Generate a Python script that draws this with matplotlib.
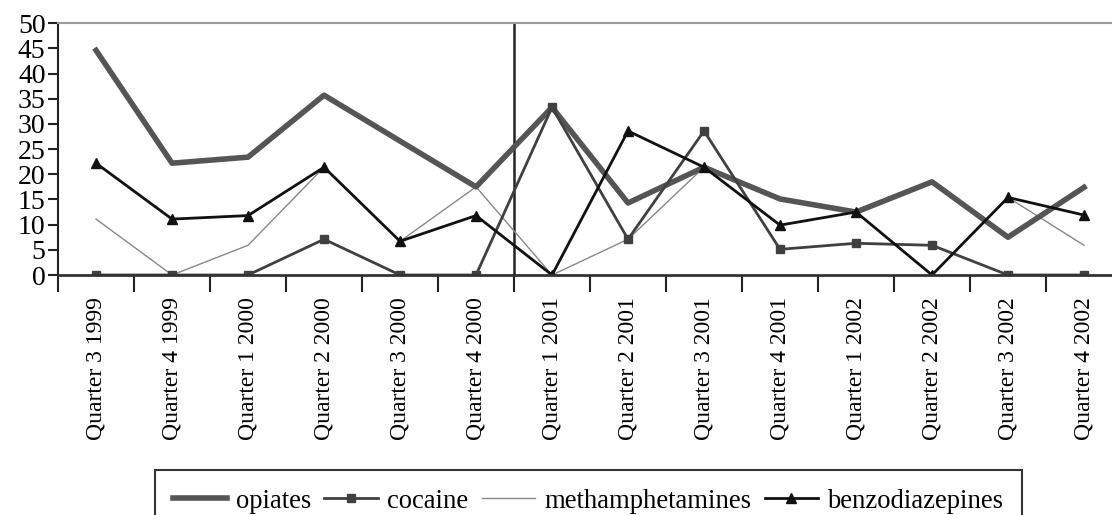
import numpy as np
import matplotlib
matplotlib.use("Agg")
import matplotlib.pyplot as plt

quarters = ["Quarter 3 1999", "Quarter 4 1999", "Quarter 1 2000", "Quarter 2 2000",
            "Quarter 3 2000", "Quarter 4 2000", "Quarter 1 2001", "Quarter 2 2001",
            "Quarter 3 2001", "Quarter 4 2001", "Quarter 1 2002", "Quarter 2 2002",
            "Quarter 3 2002", "Quarter 4 2002"]
opiates = [44.6, 22.2, 23.4, 35.7, 26.6, 17.5, 33.3, 14.3, 21.4, 15.1, 12.5, 18.5, 7.5, 17.4]
cocaine = [0, 0, 0, 7.1, 0, 0, 33.3, 7.1, 28.6, 5.1, 6.3, 5.9, 0, 0]
methamphetamines = [11.1, 0, 5.9, 21.4, 6.7, 17.5, 0, 7.1, 21.4, 15.1, 12.5, 0, 15.4, 5.9]
benzodiazepines = [22.2, 11.1, 11.8, 21.4, 6.7, 11.8, 0, 28.6, 21.4, 9.9, 12.5, 0, 15.4, 11.9]

plt.rcParams['font.family'] = ['Liberation Serif', 'DejaVu Serif']

fig = plt.figure(figsize=(11.12, 5.15), dpi=100)
ax = fig.add_axes([0.0522, 0.466, 0.9568, 0.489])

x = np.arange(len(quarters)) + 0.5
ax.plot(x, opiates, color='#555555', lw=4, label='opiates', zorder=3)
ax.plot(x, cocaine, color='#404040', lw=2, marker='s', markersize=6, label='cocaine', zorder=4)
ax.plot(x, methamphetamines, color='#888888', lw=1, label='methamphetamines', zorder=2)
ax.plot(x, benzodiazepines, color='#111111', lw=2, marker='^', markersize=7.5,
        label='benzodiazepines', zorder=5)

ax.axvline(6, color='#222222', lw=1.8, zorder=1)

ax.set_xlim(0, len(quarters))
ax.set_ylim(0, 50)
ax.set_yticks(np.arange(0, 51, 5))
ax.set_xticks(x)
ax.set_xticklabels(quarters, rotation=90, va='top', ha='center')
ax.set_xticks(np.arange(0, len(quarters) + 1), minor=True)
ax.tick_params(axis='x', which='major', length=0, pad=16, labelsize=17)
ax.tick_params(axis='x', which='minor', length=12, width=1.5, direction='out', color='#222222')
ax.tick_params(axis='y', length=7, width=1.5, labelsize=20, pad=2, color='#222222')

ax.spines['top'].set_color('#999999')
ax.spines['top'].set_linewidth(1.5)
ax.spines['right'].set_visible(False)
ax.spines['left'].set_linewidth(1.5)
ax.spines['left'].set_color('#222222')
ax.spines['bottom'].set_linewidth(2)
ax.spines['bottom'].set_color('#333333')
ax.spines['bottom'].set_zorder(6)

leg = fig.legend(loc='upper center', bbox_to_anchor=(0.529, 0.0874), ncol=4, fontsize=19.2,
                 frameon=True, fancybox=False, edgecolor='black', handlelength=2.0,
                 handletextpad=0.35, columnspacing=0.5, borderpad=0.7, borderaxespad=0)
leg.get_frame().set_linewidth(1.5)

fig.savefig('out.png', dpi=100)
